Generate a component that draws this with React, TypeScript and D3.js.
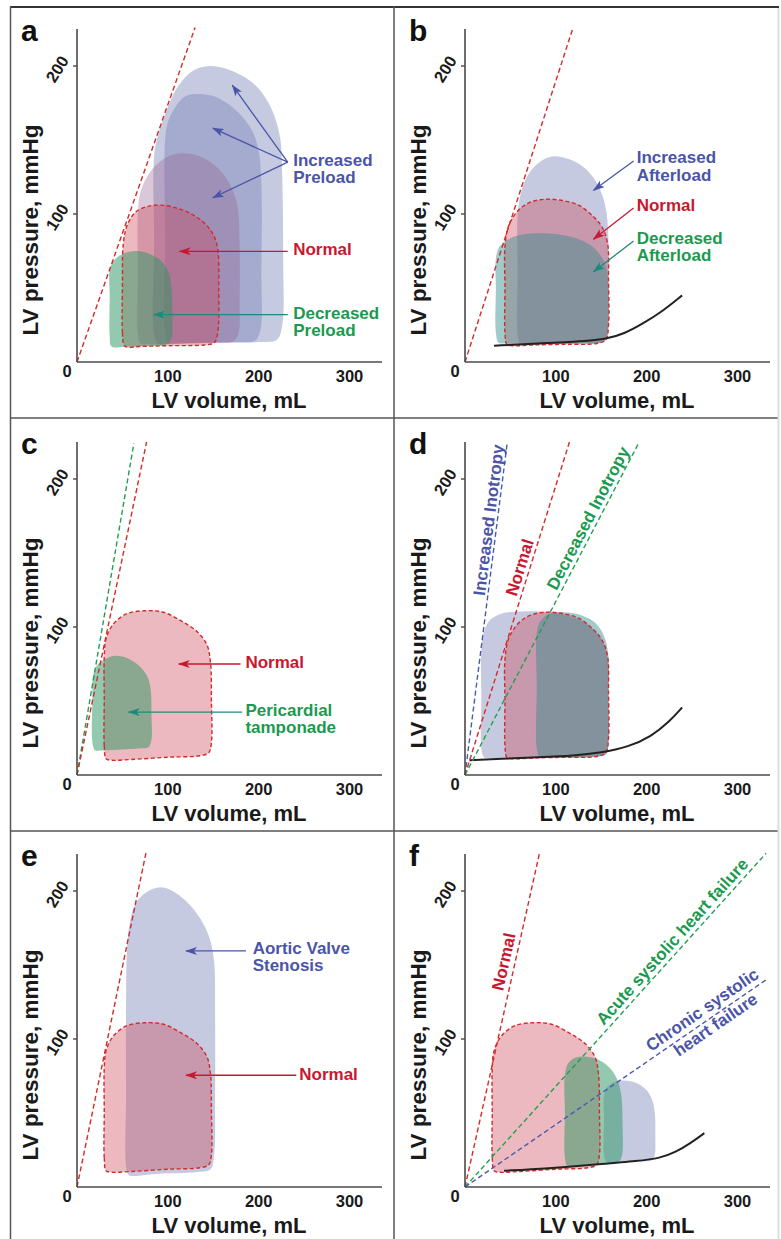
import React from 'react'
import * as d3 from 'd3'

type Pt = [number, number]

const W = 781, H = 1239
const FONT = 'Liberation Sans, Arial, Helvetica, sans-serif'

// axis ticks
const xTicks = [100, 200, 300]
const yTicks = [100, 200]

// colours
const blueFill = 'rgba(120,128,184,0.42)'
const mauveFill = 'rgba(150,95,140,0.35)'
const redFill = 'rgba(205,70,90,0.38)'
const greenFill = 'rgba(40,150,95,0.5)'
const tealFill = 'rgba(50,140,140,0.46)'
const blueText = '#4a55a8'
const redText = '#c8182f'
const greenText = '#1a9a4f'
const tealArrow = '#1f8a7c'
const redLine = '#d42a2a'
const greenLine = '#22a050'
const blueLine = '#4a5ab0'

// ESPVR end points [volume mL, pressure mmHg]
const espvrA: Pt = [130, 226]
const espvrB: Pt = [119, 226]
const espvrCNormal: Pt = [76.6, 225]
const espvrCTamponade: Pt = [62.6, 224]
const espvrDIncreased: Pt = [46.6, 225]
const espvrDNormal: Pt = [115, 225]
const espvrDDecreased: Pt = [191, 224]
const espvrE: Pt = [76, 226]
const espvrFNormal: Pt = [82, 225.5]
const espvrFAcute: Pt = [331.5, 225.5]
const espvrFChronic: Pt = [331.5, 140]

// EDPVR curves
const edpvrB: Pt[] = [[32, 11], [80, 12.5], [130, 14], [156, 15.6], [175, 19], [196, 26], [218, 34.5], [239, 45]]
const edpvrD: Pt[] = [[5, 10], [40, 11], [80, 12], [120, 13], [150, 15], [180, 19], [205, 26], [225, 36], [239, 45.6]]
const edpvrF: Pt[] = [[43, 11], [90, 12.5], [150, 15.5], [190, 17.5], [215, 19.5], [232, 23.5], [248, 29.5], [263.5, 36.4]]

// pressure-volume loops
const normalA: Pt[] = [[52, 11], [50, 20], [50, 50], [51, 80], [55, 92], [64, 101], [77, 105], [92, 106], [110, 104], [126, 100], [140, 94], [150, 86], [155, 76], [156, 50], [155, 20], [151, 13], [140, 11.5], [100, 11], [70, 10.5], [56, 10]]
const normalB: Pt[] = [[46, 12], [44, 20], [44, 50], [44, 78], [48, 92], [58, 102], [72, 108], [90, 110], [108, 109], [125, 106], [140, 99], [151, 91], [157, 80], [158, 55], [158, 25], [155, 15], [145, 12.5], [110, 12], [75, 11.5], [52, 11]]
const normalC: Pt[] = [[32, 11], [30, 20], [30, 50], [30, 80], [32, 92], [40, 102], [55, 109], [75, 111], [95, 110], [115, 104], [132, 97], [143, 88], [147, 76], [148, 50], [148, 22], [145, 15], [135, 13], [100, 12], [60, 10.5], [38, 10]]
const preloadDecreased: Pt[] = [[38, 10.5], [36, 18], [36, 45], [36, 62], [40, 68], [50, 73], [65, 75], [80, 73], [93, 68], [101, 60], [104, 50], [105, 30], [104, 16], [99, 12], [80, 11], [55, 10.5]]
const preloadUp1: Pt[] = [[70, 12.5], [67, 20], [67, 60], [67, 100], [70, 115], [80, 128], [95, 137], [113, 141], [135, 139], [155, 131], [170, 118], [177, 104], [179, 80], [179, 40], [178, 20], [172, 14], [150, 13], [110, 12.5], [80, 12]]
const preloadUp2: Pt[] = [[100, 12.5], [97, 20], [97, 80], [97, 150], [100, 162], [108, 172], [118, 179], [130, 181], [148, 180], [165, 175], [180, 167], [193, 156], [200, 143], [203, 120], [203, 60], [202, 22], [196, 14.5], [170, 13.5], [130, 13], [105, 12.5]]
const preloadUp3: Pt[] = [[90, 12], [85, 18], [85, 80], [85, 140], [90, 155], [100, 172], [112, 187], [128, 197], [146, 200], [165, 198], [183, 193], [198, 186], [210, 176], [218, 165], [224, 150], [226, 125], [227, 70], [226, 25], [220, 15], [200, 13.5], [150, 13], [100, 12]]
const afterloadUp: Pt[] = [[61, 12], [58, 18], [58, 60], [58, 100], [62, 115], [70, 127], [82, 135], [97, 139], [115, 137], [130, 132], [142, 124], [151, 113], [156, 100], [158, 80], [158, 40], [157, 20], [153, 13.5], [130, 12.5], [90, 12], [65, 11.5]]
const afterloadDown: Pt[] = [[37, 13], [34, 20], [34, 50], [34, 70], [38, 78], [48, 83], [62, 86], [83, 87], [105, 86], [123, 83.5], [138, 79], [148, 73], [155, 65], [158, 50], [158, 25], [156, 16], [150, 13.5], [120, 13], [80, 12.5], [45, 12.5]]
const tamponade: Pt[] = [[20, 16.5], [17, 22], [17, 50], [18, 68], [22, 74], [30, 78], [42, 80.5], [55, 79], [68, 74], [77, 67], [81, 58], [82, 40], [82, 24], [79, 19], [70, 18], [45, 17], [25, 16.5]]
const inotropyUp: Pt[] = [[21, 12], [18, 18], [18, 50], [18, 85], [21, 97], [28, 105], [40, 109], [60, 110.5], [85, 110.5], [105, 109], [125, 105], [142, 98], [152, 90], [157, 78], [158, 50], [158, 22], [155, 14], [140, 12], [80, 11.5], [30, 11.5]]
const inotropyDown: Pt[] = [[82, 12], [79, 18], [79, 60], [79, 96], [83, 104], [93, 109], [110, 110], [128, 108], [143, 103], [153, 94], [158, 80], [158, 50], [158, 22], [155, 14], [140, 12.5], [100, 12], [86, 12]]
const stenosis: Pt[] = [[57, 8], [54, 14], [54, 60], [54, 120], [55, 160], [58, 178], [64, 191], [76, 199], [92, 202.5], [108, 199], [125, 190], [138, 179], [146, 168], [151, 152], [152, 120], [152, 60], [151, 22], [147, 12], [130, 10], [90, 9], [62, 7.5]]
const acuteHF: Pt[] = [[113, 14], [110, 20], [110, 50], [110, 76], [114, 84], [122, 87.5], [133, 88], [147, 86], [160, 80], [168, 72], [172, 62], [173.5, 40], [173, 22], [169, 17], [150, 16], [125, 14.5]]
const chronicHF: Pt[] = [[156, 17], [153, 22], [153, 45], [153, 62], [157, 68], [165, 71], [175, 72], [188, 70.5], [199, 66], [206, 59], [209, 50], [209.5, 35], [209, 22], [206, 18], [190, 17.5], [170, 17]]

interface Loop { pts: Pt[]; fill: string; dashed?: boolean }
interface Espvr { end: Pt; color: string }
interface Arrow { from: Pt; to: Pt }
interface Note { lines: string[]; at: Pt; color: string; arrowColor?: string; arrows: Arrow[] }
interface Slanted { lines: string[]; at: Pt[]; color: string; along: Pt; bold?: boolean }
interface PanelDef {
  letter: string; col: number; row: number
  loops: Loop[]; espvr: Espvr[]; edpvr?: Pt[]; notes: Note[]; slanted: Slanted[]
}

const originX = [77, 465]
const originY = [362, 775, 1187]

const panels: PanelDef[] = [
  {
    letter: 'a', col: 0, row: 0,
    loops: [
      { pts: preloadUp3, fill: blueFill },
      { pts: preloadUp2, fill: blueFill },
      { pts: preloadUp1, fill: mauveFill },
      { pts: normalA, fill: redFill, dashed: true },
      { pts: preloadDecreased, fill: greenFill },
    ],
    espvr: [{ end: espvrA, color: redLine }],
    notes: [
      { lines: ['Increased', 'Preload'], at: [238, 132.5], color: blueText, arrows: [
        { from: [232, 135], to: [171, 187] }, { from: [232, 135], to: [149.5, 158] }, { from: [232, 135], to: [149.5, 111] }] },
      { lines: ['Normal'], at: [238, 72], color: redText, arrows: [{ from: [232, 74.8], to: [113, 74.8] }] },
      { lines: ['Decreased', 'Preload'], at: [238, 29.2], color: greenText, arrowColor: tealArrow, arrows: [{ from: [232, 32], to: [84.6, 32] }] },
    ],
    slanted: [],
  },
  {
    letter: 'b', col: 1, row: 0,
    loops: [
      { pts: afterloadUp, fill: blueFill },
      { pts: normalB, fill: redFill, dashed: true },
      { pts: afterloadDown, fill: tealFill },
    ],
    espvr: [{ end: espvrB, color: redLine }],
    edpvr: edpvrB,
    notes: [
      { lines: ['Increased', 'Afterload'], at: [189, 134.2], color: blueText, arrows: [{ from: [185.6, 135.8], to: [141.5, 116] }] },
      { lines: ['Normal'], at: [189, 101.9], color: redText, arrows: [{ from: [185.6, 104], to: [141.5, 83] }] },
      { lines: ['Decreased', 'Afterload'], at: [189, 80], color: greenText, arrowColor: tealArrow, arrows: [{ from: [185.6, 81.7], to: [141.5, 61] }] },
    ],
    slanted: [],
  },
  {
    letter: 'c', col: 0, row: 1,
    loops: [
      { pts: normalC, fill: redFill, dashed: true },
      { pts: tamponade, fill: greenFill },
    ],
    espvr: [{ end: espvrCTamponade, color: greenLine }, { end: espvrCNormal, color: redLine }],
    notes: [
      { lines: ['Normal'], at: [185.4, 72.3], color: redText, arrows: [{ from: [180, 75], to: [112, 75] }] },
      { lines: ['Pericardial', 'tamponade'], at: [185.4, 40], color: greenText, arrowColor: tealArrow, arrows: [{ from: [181.7, 42.5], to: [57, 42.5] }] },
    ],
    slanted: [],
  },
  {
    letter: 'd', col: 1, row: 1,
    loops: [
      { pts: inotropyUp, fill: blueFill },
      { pts: normalB, fill: redFill, dashed: true },
      { pts: inotropyDown, fill: tealFill },
    ],
    espvr: [
      { end: espvrDIncreased, color: blueLine },
      { end: espvrDNormal, color: redLine },
      { end: espvrDDecreased, color: greenLine },
    ],
    edpvr: edpvrD,
    notes: [],
    slanted: [
      { lines: ['Increased Inotropy'], at: [[26.4, 172.3]], color: blueText, along: espvrDIncreased },
      { lines: ['Normal'], at: [[60.6, 140.2]], color: redText, along: espvrDNormal, bold: true },
      { lines: ['Decreased Inotropy'], at: [[135.8, 173.4]], color: greenText, along: espvrDDecreased },
    ],
  },
  {
    letter: 'e', col: 0, row: 2,
    loops: [
      { pts: stenosis, fill: blueFill },
      { pts: normalC, fill: redFill, dashed: true },
    ],
    espvr: [{ end: espvrE, color: redLine }],
    notes: [
      { lines: ['Aortic Valve', 'Stenosis'], at: [193.4, 157.3], color: blueText, arrows: [{ from: [186, 159.5], to: [120, 159.5] }] },
      { lines: ['Normal'], at: [244.7, 72.5], color: redText, arrows: [{ from: [241.4, 75.5], to: [120, 75.5] }] },
    ],
    slanted: [],
  },
  {
    letter: 'f', col: 1, row: 2,
    loops: [
      { pts: normalC, fill: redFill, dashed: true },
      { pts: chronicHF, fill: blueFill },
      { pts: acuteHF, fill: greenFill },
    ],
    espvr: [
      { end: espvrFNormal, color: redLine },
      { end: espvrFAcute, color: greenLine },
      { end: espvrFChronic, color: blueLine },
    ],
    edpvr: edpvrF,
    notes: [],
    slanted: [
      { lines: ['Normal'], at: [[43, 152.2]], color: redText, along: espvrFNormal, bold: true },
      { lines: ['Acute systolic heart failure'], at: [[228.3, 165.7]], color: greenText, along: espvrFAcute },
      { lines: ['Chronic systolic', 'heart failure'], at: [[261.3, 119.6], [276, 109.5]], color: blueText, along: espvrFChronic },
    ],
  },
]

const markerColors = [blueText, redText, tealArrow]
const markerId = (c: string) => 'arr' + c.replace('#', '')

function Panel({ p }: { p: PanelDef }) {
  const ox = originX[p.col], oy = originY[p.row]
  const x = d3.scaleLinear().domain([0, 300]).range([ox, ox + 272.5])
  const y = d3.scaleLinear().domain([0, 200]).range([oy, oy - 296])
  const loopPath = d3.line<Pt>().x(d => x(d[0])).y(d => y(d[1])).curve(d3.curveCatmullRomClosed.alpha(0.5))
  const curvePath = d3.line<Pt>().x(d => x(d[0])).y(d => y(d[1])).curve(d3.curveBasis)

  return (
    <g>
      {p.loops.map((l, i) => (
        <path key={'f' + i} d={loopPath(l.pts) || ''} fill={l.fill} stroke="none" />
      ))}
      {p.loops.filter(l => l.dashed).map((l, i) => (
        <path key={'s' + i} d={loopPath(l.pts) || ''} fill="none" stroke={redLine} strokeWidth={1.4} strokeDasharray="4,2.5" />
      ))}
      {p.edpvr && <path d={curvePath(p.edpvr) || ''} fill="none" stroke="#222" strokeWidth={2} />}
      {p.espvr.map((e, i) => (
        <line key={'e' + i} x1={x(0)} y1={y(0)} x2={x(e.end[0])} y2={y(e.end[1])}
          stroke={e.color} strokeWidth={1.4} strokeDasharray="5,3" />
      ))}
      {/* axes */}
      <line x1={ox} y1={oy} x2={ox} y2={oy - 333} stroke="#4a4a4a" strokeWidth={1.6} />
      <line x1={ox} y1={oy} x2={ox + 305} y2={oy} stroke="#4a4a4a" strokeWidth={1.6} />
      {yTicks.map(t => (
        <g key={'yt' + t}>
          <line x1={ox - 4} x2={ox} y1={y(t)} y2={y(t)} stroke="#4a4a4a" strokeWidth={1.4} />
          <text transform={`translate(${ox - 20},${y(t) + 3}) rotate(-58)`} textAnchor="middle"
            dominantBaseline="central" fontSize={16.5} fontWeight="bold" fill="#1a1a1a">{t}</text>
        </g>
      ))}
      <text x={ox - 10} y={oy + 15} textAnchor="middle" fontSize={16.5} fontWeight="bold" fill="#1a1a1a">0</text>
      {xTicks.map(t => (
        <text key={'xt' + t} x={x(t)} y={oy + 20} textAnchor="middle" fontSize={16.5} fontWeight="bold" fill="#1a1a1a">{t}</text>
      ))}
      <text x={ox + 152} y={oy + 46} textAnchor="middle" fontSize={22} fontWeight="bold" fill="#1a1a1a">LV volume, mL</text>
      <text transform={`translate(${ox - 39},${oy - 132}) rotate(-90)`} textAnchor="middle" fontSize={22.5}
        fontWeight="bold" fill="#1a1a1a">LV pressure, mmHg</text>
      <text x={ox - 56} y={oy - 321} fontSize={30} fontWeight="bold" fill="#111">{p.letter}</text>

      {/* annotations with arrows */}
      {p.notes.map((n, i) => (
        <g key={'n' + i}>
          {n.arrows.map((a, j) => (
            <line key={j} x1={x(a.from[0])} y1={y(a.from[1])} x2={x(a.to[0])} y2={y(a.to[1])}
              stroke={n.arrowColor || n.color} strokeWidth={1.3} markerEnd={`url(#${markerId(n.arrowColor || n.color)})`} />
          ))}
          <text x={x(n.at[0])} y={y(n.at[1])} fontSize={17} fontWeight="bold" fill={n.color}>
            {n.lines.map((s, j) => (
              <tspan key={j} x={x(n.at[0])} dy={j === 0 ? 0 : 17.3}>{s}</tspan>
            ))}
          </text>
        </g>
      ))}

      {/* labels lying along the ESPVR lines */}
      {p.slanted.map((s, i) => {
        const ang = Math.atan2(y(s.along[1]) - y(0), x(s.along[0]) - x(0)) * 180 / Math.PI
        return s.lines.map((t, j) => (
          <text key={'sl' + i + '-' + j} transform={`translate(${x(s.at[j][0])},${y(s.at[j][1])}) rotate(${ang})`}
            textAnchor="middle" dominantBaseline="central" fontSize={17}
            fontWeight={s.bold ? 'bold' : 600} fill={s.color}>{t}</text>
        ))
      })}
    </g>
  )
}

export default function App() {
  return (
    <svg width={W} height={H} style={{ position: 'absolute', left: 0, top: 0, background: '#fff' }}
      fontFamily={FONT}>
      <defs>
        {markerColors.map(c => (
          <marker key={c} id={markerId(c)} viewBox="0 0 12 8" refX={11} refY={4} markerWidth={12} markerHeight={8}
            markerUnits="userSpaceOnUse" orient="auto">
            <path d="M0,0 L12,4 L0,8 L3,4 Z" fill={c} />
          </marker>
        ))}
      </defs>
      <rect x={0} y={0} width={W} height={H} fill="#fff" />
      {panels.map(p => <Panel key={p.letter} p={p} />)}
      {/* frame */}
      <line x1={10} y1={7} x2={779} y2={7} stroke="#333" strokeWidth={2} />
      <line x1={10.5} y1={6} x2={10.5} y2={H} stroke="#555" strokeWidth={1.5} />
      <line x1={394} y1={6} x2={394} y2={H} stroke="#555" strokeWidth={1.5} />
      <line x1={10} y1={418} x2={779} y2={418} stroke="#555" strokeWidth={1.5} />
      <line x1={10} y1={831} x2={779} y2={831} stroke="#555" strokeWidth={1.5} />
      <line x1={778.5} y1={8} x2={778.5} y2={H} stroke="#ddd" strokeWidth={2} />
    </svg>
  )
}
